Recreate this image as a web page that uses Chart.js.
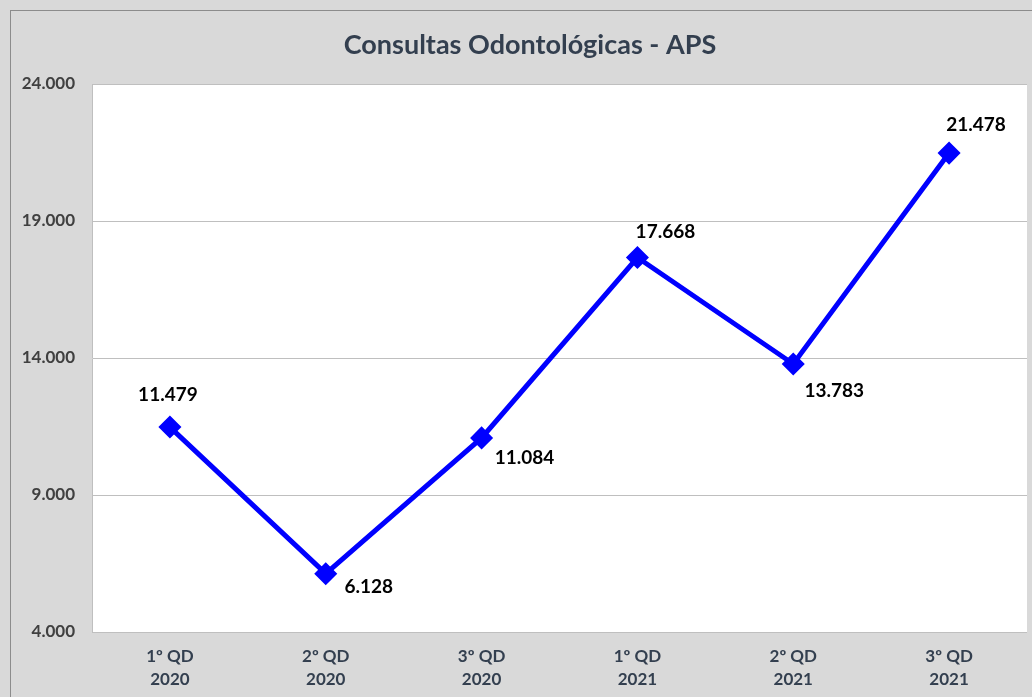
<!DOCTYPE html>
<html lang="pt">
<head>
  <meta charset="UTF-8">
  <title>Consultas Odontológicas - APS</title>
  <script src="https://cdn.jsdelivr.net/npm/chart.js"></script>
  <style>
    body { margin: 0; background: #fff; }
    #wrap { width: 1032px; height: 697px; }
  </style>
</head>
<body>
  <div id="wrap"><canvas id="grafico" width="1032" height="697"></canvas></div>
  <script>
    // dados
    const quadrimestres = [['1º QD', '2020'], ['2º QD', '2020'], ['3º QD', '2020'], ['1º QD', '2021'], ['2º QD', '2021'], ['3º QD', '2021']];
    const consultas = [11479, 6128, 11084, 17668, 13783, 21478];
    const tituloGrafico = 'Consultas Odontológicas - APS';

    // onde fica cada rótulo em relação ao ponto (dx, dy)
    const posRotulo = [[-2, -32], [43, 13], [43, 20], [28, -26], [41, 27], [27, -28]];

    const fmt = v => v.toLocaleString('pt-BR');
    const fonte = 'Lato, "Open Sans", sans-serif';

    const fundo = {
      id: 'fundo',
      beforeDraw(chart) {
        const { ctx, chartArea: a, width, height } = chart;
        ctx.save();
        ctx.fillStyle = '#d9d9d9';
        ctx.fillRect(0, 0, width, height);
        ctx.strokeStyle = '#8c8c8c';
        ctx.lineWidth = 1;
        ctx.strokeRect(10.5, 10.5, width + 10, height + 10);
        ctx.fillStyle = '#ffffff';
        ctx.fillRect(a.left, a.top, a.right - a.left, a.bottom - a.top);
        ctx.fillStyle = '#333f4f';
        ctx.font = 'bold 27px ' + fonte;
        ctx.textAlign = 'center';
        ctx.textBaseline = 'middle';
        ctx.fillText(tituloGrafico, 530, 45);
        ctx.restore();
      }
    };

    const rotulos = {
      id: 'rotulos',
      afterDatasetsDraw(chart) {
        const { ctx } = chart;
        const meta = chart.getDatasetMeta(0);
        ctx.save();
        ctx.fillStyle = '#000';
        ctx.font = 'bold 19px ' + fonte;
        ctx.textAlign = 'center';
        ctx.textBaseline = 'middle';
        meta.data.forEach((p, i) => {
          const [dx, dy] = posRotulo[i];
          ctx.fillText(fmt(consultas[i]), p.x + dx, p.y + dy);
        });
        ctx.restore();
      }
    };

    new Chart(document.getElementById('grafico'), {
      type: 'line',
      data: {
        labels: quadrimestres,
        datasets: [{
          data: consultas,
          borderColor: '#0000ff',
          backgroundColor: '#0000ff',
          borderWidth: 5,
          pointStyle: 'rectRot',
          pointRadius: 8,
          pointHoverRadius: 8,
          tension: 0
        }]
      },
      options: {
        responsive: false,
        animation: false,
        layout: { autoPadding: false, padding: { left: 10, top: 84, right: 5, bottom: 0 } },
        plugins: {
          legend: { display: false },
          tooltip: { enabled: false }
        },
        scales: {
          x: {
            offset: true,
            grid: { display: false, drawTicks: false },
            border: { display: false },
            ticks: {
              color: '#333f4f',
              font: { family: fonte, size: 17, weight: 'bold', lineHeight: 1.35 },
              padding: 13,
              maxRotation: 0
            },
            afterFit(s) { s.height = 65; }
          },
          y: {
            min: 4000,
            max: 24000,
            grid: { color: '#bfbfbf', lineWidth: 1, drawTicks: false },
            border: { display: true, color: '#bfbfbf' },
            ticks: {
              stepSize: 5000,
              color: '#404040',
              font: { family: fonte, size: 17, weight: 'bold' },
              padding: 17,
              callback: v => fmt(v)
            },
            afterFit(s) { s.width = 82; }
          }
        }
      },
      plugins: [fundo, rotulos]
    });
  </script>
</body>
</html>
